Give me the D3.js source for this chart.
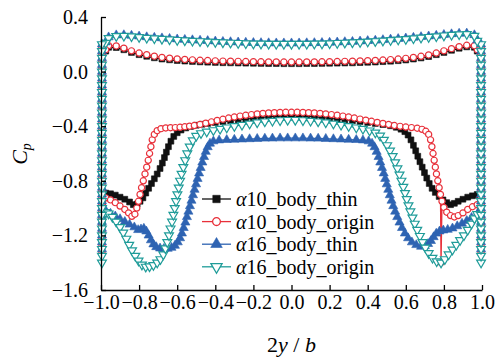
<!DOCTYPE html>
<html>
<head>
<meta charset="utf-8">
<script src="https://cdn.jsdelivr.net/npm/d3@7"></script>
<style>
body { margin: 0; background: #fff; }
svg { display: block; }
</style>
</head>
<body>
<div class="cp_chart"></div>
<script>
const WIDTH = 499;
const HEIGHT = 359;
const MARGIN = { top: 17, right: 17, bottom: 69, left: 101 };
const FONT = "'Liberation Serif', 'Times New Roman', serif";

// tick labels
const xTicks = [-1.0, -0.8, -0.6, -0.4, -0.2, 0.0, 0.2, 0.4, 0.6, 0.8, 1.0];
const yTicks = [0.4, 0.0, -0.4, -0.8, -1.2, -1.6];

// series names (legend)
const seriesNames = ['10_body_thin', '10_body_origin', '16_body_thin', '16_body_origin'];

// spanwise stations for the upper branch
const xUpper = [-0.975, -0.96, -0.92, -0.88, -0.84, -0.80, -0.76, -0.72, -0.68, -0.64, -0.60,
	-0.56, -0.52, -0.48, -0.44, -0.40, -0.36, -0.32, -0.28, -0.24, -0.20, -0.16, -0.12, -0.08,
	-0.04, 0.00, 0.04, 0.08, 0.12, 0.16, 0.20, 0.24, 0.28, 0.32, 0.36, 0.40, 0.44, 0.48, 0.52,
	0.56, 0.60, 0.64, 0.68, 0.72, 0.76, 0.80, 0.84, 0.88, 0.92, 0.96, 0.975];

const thin10Upper = [0.15, 0.178, 0.176, 0.16, 0.14, 0.124, 0.112, 0.101, 0.092, 0.086, 0.081,
	0.077, 0.074, 0.071, 0.069, 0.067, 0.065, 0.064, 0.063, 0.062, 0.061, 0.06, 0.059, 0.059,
	0.058, 0.058, 0.058, 0.059, 0.059, 0.06, 0.061, 0.062, 0.063, 0.064, 0.066, 0.068, 0.07,
	0.073, 0.076, 0.08, 0.085, 0.092, 0.1, 0.11, 0.124, 0.14, 0.156, 0.171, 0.181, 0.178, 0.15];

const orig10Upper = [0.16, 0.19, 0.188, 0.172, 0.152, 0.136, 0.124, 0.113, 0.104, 0.098, 0.093,
	0.089, 0.086, 0.083, 0.081, 0.079, 0.077, 0.076, 0.075, 0.074, 0.073, 0.072, 0.071, 0.071,
	0.07, 0.07, 0.07, 0.071, 0.071, 0.072, 0.073, 0.074, 0.075, 0.076, 0.078, 0.08, 0.082,
	0.085, 0.088, 0.092, 0.097, 0.104, 0.112, 0.122, 0.136, 0.152, 0.168, 0.183, 0.193, 0.19, 0.16];

const thin16Upper = [0.215, 0.252, 0.267, 0.268, 0.264, 0.258, 0.253, 0.249, 0.245, 0.241, 0.237,
	0.234, 0.231, 0.228, 0.225, 0.222, 0.219, 0.217, 0.215, 0.213, 0.211, 0.21, 0.209, 0.208,
	0.208, 0.208, 0.208, 0.209, 0.21, 0.211, 0.213, 0.215, 0.217, 0.219, 0.222, 0.225, 0.228,
	0.232, 0.236, 0.24, 0.244, 0.249, 0.254, 0.259, 0.264, 0.27, 0.275, 0.279, 0.28, 0.268, 0.23];

const orig16Upper = [0.21, 0.245, 0.26, 0.262, 0.258, 0.252, 0.247, 0.243, 0.239, 0.235, 0.231,
	0.228, 0.225, 0.222, 0.219, 0.216, 0.213, 0.211, 0.209, 0.207, 0.205, 0.204, 0.203, 0.202,
	0.202, 0.202, 0.202, 0.203, 0.204, 0.205, 0.207, 0.209, 0.211, 0.213, 0.216, 0.219, 0.222,
	0.226, 0.23, 0.234, 0.238, 0.243, 0.248, 0.253, 0.258, 0.264, 0.269, 0.273, 0.274, 0.262, 0.225];

// lower branch [2y/b, Cp]
const thin10Lower = [[-0.975,-0.89],[-0.95,-0.895],[-0.925,-0.905],[-0.90,-0.92],[-0.875,-0.935],
	[-0.85,-0.955],[-0.83,-0.975],[-0.81,-0.97],[-0.795,-0.95],[-0.78,-0.925],[-0.765,-0.89],
	[-0.75,-0.855],[-0.735,-0.82],[-0.72,-0.785],[-0.705,-0.75],[-0.69,-0.71],[-0.678,-0.67],
	[-0.667,-0.63],[-0.657,-0.59],[-0.646,-0.55],[-0.633,-0.51],[-0.618,-0.475],[-0.60,-0.448],
	[-0.58,-0.428],[-0.555,-0.413],[-0.53,-0.402],[-0.50,-0.393],[-0.47,-0.386],[-0.44,-0.38],
	[-0.40,-0.373],[-0.36,-0.366],[-0.32,-0.36],[-0.28,-0.354],[-0.24,-0.348],[-0.20,-0.342],
	[-0.16,-0.336],[-0.12,-0.331],[-0.08,-0.327],[-0.04,-0.324],[0,-0.323],[0.04,-0.324],
	[0.08,-0.327],[0.12,-0.331],[0.16,-0.336],[0.20,-0.342],[0.24,-0.348],[0.28,-0.354],
	[0.32,-0.36],[0.36,-0.366],[0.40,-0.373],[0.44,-0.38],[0.48,-0.388],[0.52,-0.397],
	[0.55,-0.408],[0.575,-0.422],[0.595,-0.44],[0.612,-0.465],[0.627,-0.5],[0.64,-0.54],
	[0.652,-0.58],[0.663,-0.62],[0.674,-0.66],[0.686,-0.70],[0.698,-0.74],[0.71,-0.78],
	[0.723,-0.82],[0.738,-0.855],[0.755,-0.885],[0.775,-0.915],[0.795,-0.94],[0.815,-0.96],
	[0.835,-0.975],[0.855,-0.965],[0.875,-0.95],[0.90,-0.935],[0.925,-0.92],[0.95,-0.91],[0.975,-0.9]];

const orig10Lower = [[-0.975,-0.925],[-0.95,-0.94],[-0.925,-0.96],[-0.90,-0.985],[-0.875,-1.01],
	[-0.855,-1.035],[-0.838,-1.06],[-0.822,-1.045],[-0.812,-1.0],[-0.803,-0.95],[-0.795,-0.9],
	[-0.787,-0.85],[-0.778,-0.8],[-0.769,-0.75],[-0.76,-0.7],[-0.752,-0.65],[-0.745,-0.6],
	[-0.738,-0.55],[-0.731,-0.5],[-0.72,-0.46],[-0.705,-0.433],[-0.685,-0.418],[-0.66,-0.413],
	[-0.635,-0.411],[-0.61,-0.41],[-0.585,-0.408],[-0.56,-0.404],[-0.535,-0.4],[-0.51,-0.395],
	[-0.48,-0.387],[-0.45,-0.378],[-0.42,-0.368],[-0.39,-0.358],[-0.36,-0.349],[-0.33,-0.34],
	[-0.30,-0.333],[-0.27,-0.326],[-0.24,-0.32],[-0.21,-0.315],[-0.18,-0.31],[-0.15,-0.306],
	[-0.12,-0.303],[-0.09,-0.301],[-0.06,-0.299],[-0.03,-0.298],[0,-0.298],[0.03,-0.298],
	[0.06,-0.299],[0.09,-0.301],[0.12,-0.303],[0.15,-0.306],[0.18,-0.31],[0.21,-0.315],
	[0.24,-0.32],[0.27,-0.326],[0.30,-0.333],[0.33,-0.34],[0.36,-0.348],[0.39,-0.356],
	[0.42,-0.364],[0.45,-0.372],[0.48,-0.38],[0.51,-0.388],[0.54,-0.395],[0.57,-0.401],
	[0.60,-0.406],[0.63,-0.41],[0.66,-0.415],[0.685,-0.423],[0.705,-0.437],[0.72,-0.46],
	[0.73,-0.5],[0.737,-0.55],[0.743,-0.6],[0.749,-0.65],[0.755,-0.7],[0.761,-0.75],
	[0.768,-0.8],[0.775,-0.85],[0.782,-0.9],[0.785,-1.4],[0.79,-0.95],[0.8,-0.995],
	[0.815,-1.03],[0.835,-1.055],[0.855,-1.065],[0.875,-1.055],[0.90,-1.035],[0.925,-1.01],
	[0.95,-0.99],[0.975,-0.975]];

const thin16Lower = [[-0.975,-1.02],[-0.95,-1.04],[-0.925,-1.06],[-0.90,-1.08],[-0.875,-1.10],
	[-0.85,-1.12],[-0.825,-1.14],[-0.805,-1.16],[-0.79,-1.155],[-0.775,-1.15],[-0.762,-1.17],
	[-0.75,-1.2],[-0.738,-1.235],[-0.725,-1.265],[-0.71,-1.285],[-0.69,-1.295],[-0.67,-1.298],
	[-0.65,-1.297],[-0.63,-1.29],[-0.612,-1.275],[-0.597,-1.25],[-0.585,-1.22],[-0.575,-1.185],
	[-0.566,-1.145],[-0.557,-1.105],[-0.549,-1.065],[-0.541,-1.025],[-0.533,-0.985],
	[-0.525,-0.945],[-0.517,-0.905],[-0.509,-0.865],[-0.501,-0.825],[-0.493,-0.785],
	[-0.485,-0.745],[-0.477,-0.705],[-0.468,-0.665],[-0.459,-0.625],[-0.45,-0.587],
	[-0.44,-0.553],[-0.428,-0.527],[-0.41,-0.51],[-0.38,-0.503],[-0.34,-0.5],[-0.30,-0.498],
	[-0.26,-0.496],[-0.22,-0.494],[-0.18,-0.492],[-0.14,-0.49],[-0.10,-0.489],[-0.06,-0.488],
	[-0.02,-0.488],[0.02,-0.488],[0.06,-0.488],[0.10,-0.489],[0.14,-0.49],[0.18,-0.492],
	[0.22,-0.494],[0.26,-0.496],[0.30,-0.498],[0.34,-0.5],[0.375,-0.503],[0.405,-0.51],
	[0.423,-0.527],[0.436,-0.553],[0.447,-0.587],[0.457,-0.625],[0.466,-0.665],[0.475,-0.705],
	[0.484,-0.745],[0.492,-0.785],[0.5,-0.825],[0.508,-0.865],[0.516,-0.905],[0.525,-0.945],
	[0.534,-0.985],[0.544,-1.025],[0.555,-1.065],[0.567,-1.105],[0.58,-1.145],[0.595,-1.185],
	[0.612,-1.22],[0.632,-1.25],[0.655,-1.27],[0.68,-1.282],[0.70,-1.278],[0.717,-1.262],
	[0.732,-1.24],[0.746,-1.212],[0.76,-1.186],[0.777,-1.17],[0.797,-1.163],[0.82,-1.158],
	[0.845,-1.148],[0.87,-1.132],[0.895,-1.113],[0.92,-1.093],[0.945,-1.07],[0.975,-1.045]];

const orig16Lower = [[-0.975,-1.03],[-0.96,-1.04],[-0.94,-1.065],[-0.92,-1.10],[-0.90,-1.14],
	[-0.883,-1.18],[-0.867,-1.225],[-0.852,-1.27],[-0.837,-1.31],[-0.82,-1.35],[-0.803,-1.385],
	[-0.785,-1.415],[-0.765,-1.43],[-0.745,-1.428],[-0.725,-1.418],[-0.705,-1.4],[-0.688,-1.375],
	[-0.673,-1.34],[-0.662,-1.295],[-0.652,-1.25],[-0.643,-1.2],[-0.635,-1.15],[-0.627,-1.1],
	[-0.62,-1.05],[-0.613,-1.0],[-0.606,-0.95],[-0.599,-0.9],[-0.592,-0.85],[-0.585,-0.8],
	[-0.577,-0.75],[-0.568,-0.7],[-0.558,-0.65],[-0.547,-0.6],[-0.534,-0.55],[-0.518,-0.505],
	[-0.5,-0.472],[-0.475,-0.452],[-0.445,-0.44],[-0.41,-0.43],[-0.375,-0.42],[-0.34,-0.41],
	[-0.30,-0.4],[-0.26,-0.39],[-0.22,-0.381],[-0.18,-0.373],[-0.14,-0.366],[-0.10,-0.361],
	[-0.06,-0.357],[-0.02,-0.355],[0.02,-0.355],[0.06,-0.357],[0.10,-0.361],[0.14,-0.366],
	[0.18,-0.373],[0.22,-0.381],[0.26,-0.39],[0.30,-0.4],[0.34,-0.41],[0.375,-0.42],
	[0.41,-0.432],[0.44,-0.447],[0.465,-0.47],[0.485,-0.5],[0.502,-0.54],[0.517,-0.58],
	[0.531,-0.62],[0.544,-0.665],[0.556,-0.71],[0.567,-0.755],[0.577,-0.8],[0.587,-0.845],
	[0.596,-0.89],[0.605,-0.935],[0.614,-0.98],[0.624,-1.025],[0.635,-1.07],[0.647,-1.115],
	[0.66,-1.16],[0.674,-1.205],[0.688,-1.25],[0.703,-1.29],[0.72,-1.33],[0.74,-1.365],
	[0.762,-1.39],[0.785,-1.4],[0.805,-1.375],[0.825,-1.34],[0.845,-1.305],[0.865,-1.27],
	[0.885,-1.235],[0.905,-1.2],[0.925,-1.16],[0.945,-1.115],[0.96,-1.075],[0.975,-1.045]];

// wing tip stations and Cp read along the tip
const tipSpan = [-0.995, 0.995];
const tipCpA = [0.2, 0.15, 0.1, 0.05, 0.0, -0.05, -0.1, -0.15, -0.2, -0.25, -0.3, -0.35, -0.4,
	-0.45, -0.5, -0.55, -0.6, -0.65, -0.7, -0.75, -0.8, -0.85, -0.9, -0.95, -1.0, -1.05, -1.1,
	-1.15, -1.2, -1.25, -1.3, -1.35, -1.4];
const tipCpB = [0.175, 0.125, 0.075, 0.025, -0.025, -0.075, -0.125, -0.175, -0.225, -0.275,
	-0.325, -0.375, -0.425, -0.475, -0.525, -0.575, -0.625, -0.675, -0.725, -0.775, -0.825,
	-0.875, -0.925, -0.975, -1.025, -1.075, -1.125, -1.175, -1.225, -1.275, -1.325];
const tipMin = [-1.25, -1.33, -1.34, -1.4];

const series = [
	{ upper: thin10Upper, lower: thin10Lower, tip: tipCpB, color: '#111111', symbol: d3.symbolSquare, size: 34, open: false, rot: 0 },
	{ upper: orig10Upper, lower: orig10Lower, tip: tipCpB, color: '#e8303a', symbol: d3.symbolCircle, size: 30, open: true, rot: 0 },
	{ upper: thin16Upper, lower: thin16Lower, tip: tipCpA, color: '#2e63b2', symbol: d3.symbolTriangle, size: 36, open: false, rot: 0 },
	{ upper: orig16Upper, lower: orig16Lower, tip: tipCpA, color: '#1f9c99', symbol: d3.symbolTriangle, size: 34, open: true, rot: 180 }
];

const svg = d3
	.select('.cp_chart')
	.append('svg')
	.attr('width', WIDTH)
	.attr('height', HEIGHT)
	.style('font-family', FONT);

const xScale = d3
	.scaleLinear()
	.domain([-1, 1])
	.range([MARGIN.left, WIDTH - MARGIN.right]);

const yScale = d3
	.scaleLinear()
	.domain([-1.6, 0.4])
	.range([HEIGHT - MARGIN.bottom, MARGIN.top]);

// put the loop together: lower L->R, right tip up, upper R->L, left tip down
function buildLoop(s, i) {
	const down = s.tip.filter(v => v >= tipMin[i]);
	const upper = xUpper.map((x, k) => [x, s.upper[k]]);
	const right = down.slice().reverse().map(v => [tipSpan[1], v]);
	const left = down.map(v => [tipSpan[0], v]);
	return [...s.lower, ...right, ...upper.reverse(), ...left];
}

const line = d3
	.line()
	.x(d => xScale(d[0]))
	.y(d => yScale(d[1]));

series.forEach((s, i) => {
	const pts = buildLoop(s, i);
	const g = svg.append('g');
	g.append('path')
		.attr('d', line([...pts, pts[0]]))
		.attr('fill', 'none')
		.attr('stroke', s.color)
		.attr('stroke-width', 1.3);
	const sym = d3.symbol().type(s.symbol).size(s.size)();
	g.selectAll('path.mark')
		.data(pts)
		.enter()
		.append('path')
		.attr('class', 'mark')
		.attr('d', sym)
		.attr('transform', d => `translate(${xScale(d[0])},${yScale(d[1])}) rotate(${s.rot})`)
		.attr('fill', s.open ? '#fff' : s.color)
		.attr('stroke', s.color)
		.attr('stroke-width', s.open ? 1.2 : 0.6);
});

// axes
const fmt = d3.format('.1f');

const xAxis = d3.axisBottom(xScale)
	.tickValues(xTicks)
	.tickFormat(fmt)
	.tickSizeInner(-5)
	.tickSizeOuter(0)
	.tickPadding(5);

const gx = svg.append('g')
	.attr('transform', `translate(0, ${HEIGHT - MARGIN.bottom})`)
	.call(xAxis);

const yAxis = d3.axisLeft(yScale)
	.tickValues(yTicks)
	.tickFormat(fmt)
	.tickSizeInner(-5)
	.tickSizeOuter(0)
	.tickPadding(13);

const gy = svg.append('g')
	.attr('transform', `translate(${MARGIN.left}, 0)`)
	.call(yAxis);

[gx, gy].forEach(g => {
	g.attr('font-family', null).attr('font-size', null);
	g.selectAll('path, line').attr('stroke', '#000').attr('stroke-width', 1.3);
	g.selectAll('text')
		.attr('fill', '#000')
		.style('font-family', FONT)
		.style('font-size', '20px');
});

// axis titles
svg.append('text')
	.attr('x', (xScale(-1) + xScale(1)) / 2)
	.attr('y', 352)
	.attr('text-anchor', 'middle')
	.style('font-family', FONT)
	.style('font-size', '22px')
	.html('2<tspan font-style="italic">y</tspan> / <tspan font-style="italic">b</tspan>');

svg.append('text')
	.attr('transform', 'translate(27, 154) rotate(-90)')
	.attr('text-anchor', 'middle')
	.style('font-family', FONT)
	.style('font-size', '22px')
	.html('<tspan font-style="italic">C</tspan><tspan font-style="italic" font-size="14" dy="4">p</tspan>');

// legend
const legend = svg.append('g').attr('transform', 'translate(202, 199)');
series.forEach((s, i) => {
	const row = legend.append('g').attr('transform', `translate(0, ${i * 22.6})`);
	row.append('line')
		.attr('x1', 0).attr('x2', 29)
		.attr('stroke', s.color)
		.attr('stroke-width', 1.3);
	row.append('path')
		.attr('d', d3.symbol().type(s.symbol).size(s.size * 1.6)())
		.attr('transform', `translate(14.5, 0) rotate(${s.rot})`)
		.attr('fill', s.open ? '#fff' : s.color)
		.attr('stroke', s.color)
		.attr('stroke-width', s.open ? 1.3 : 0.6);
	row.append('text')
		.attr('x', 34)
		.attr('y', 7)
		.style('font-family', FONT)
		.style('font-size', '20px')
		.html('<tspan font-style="italic">α</tspan>' + seriesNames[i]);
});
</script>
</body>
</html>
